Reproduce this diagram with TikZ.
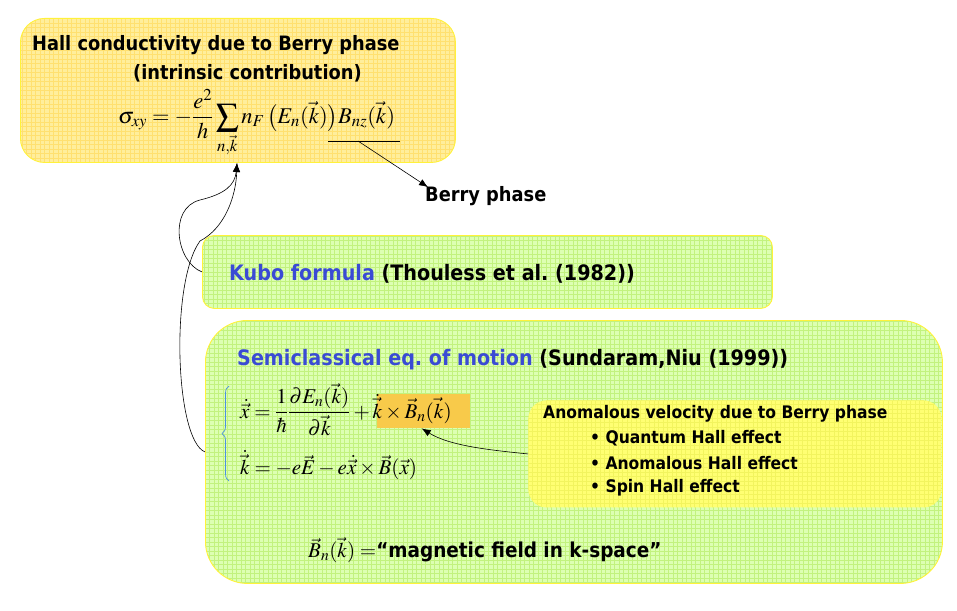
\documentclass[tikz,border=0pt]{standalone}
\usepackage{amsmath}
\usepackage{mathptmx}
\usepackage{fontspec}
\usepackage{xcolor}
\usepackage{tikz}
\usetikzlibrary{arrows.meta,positioning,decorations.pathreplacing}
\newfontfamily\tah{DejaVu Sans Condensed Bold}
\frenchspacing
\definecolor{hallfill}{HTML}{FFEE9C}
\definecolor{hallgrid}{HTML}{FFE070}
\definecolor{greenfill}{HTML}{DDFFB2}
\definecolor{greengrid}{HTML}{C2F27E}
\definecolor{anomfill}{HTML}{FFFF72}
\definecolor{anomgrid}{HTML}{F2F45E}
\definecolor{hilite}{HTML}{F8CA4A}
\definecolor{edgeyellow}{HTML}{FFF23A}
\definecolor{titleblue}{HTML}{3A4BD4}
\definecolor{bracecol}{HTML}{4A90E2}
\tikzset{
    gridded/.style={path picture={\draw[#1, line width=0.3pt] ([shift={(-5pt,-5pt)}]path picture bounding box.south west) grid[step=4.5pt] ([shift={(5pt,5pt)}]path picture bounding box.north east);}},
    panel/.style={draw=edgeyellow, line width=0.9pt, anchor=north west, inner sep=0pt},
    hallbox/.style={panel, fill=hallfill, gridded=hallgrid, rounded corners=24pt, minimum width=435pt, minimum height=144pt},
    kubobox/.style={panel, fill=greenfill, gridded=greengrid, rounded corners=12pt, minimum width=570pt, minimum height=73pt},
    semibox/.style={panel, fill=greenfill, gridded=greengrid, rounded corners=42pt, minimum width=737pt, minimum height=263pt},
    anombox/.style={panel, draw=none, fill=anomfill, gridded=anomgrid, rounded corners=18pt, minimum width=413pt, minimum height=107pt},
    hlbox/.style={anchor=north west, fill=hilite, inner sep=0pt, minimum width=93pt, minimum height=34pt},
    headtext/.style={anchor=west, inner sep=0pt, font=\tah\fontsize{19.8}{23}\selectfont},
    bigtext/.style={anchor=west, inner sep=0pt, font=\tah\fontsize{21.3}{25}\selectfont},
    smalltext/.style={anchor=west, inner sep=0pt, font=\tah\fontsize{17.3}{20}\selectfont},
    mathtext/.style={anchor=west, inner sep=0pt, font=\fontsize{21}{25}\selectfont},
    arr/.style={-{Latex[length=9pt,width=7pt]}, line width=0.6pt}
}

\begin{document}
\begin{tikzpicture}[x=1pt, y=-1pt]
    \useasboundingbox (0,0) rectangle (957,610);
    % panels
    \node[hallbox] (hall) at (20,18) {};
    \node[kubobox] (kubo) at (202,235) {};
    \node[semibox] (semi) at (205,320) {};
    \node[anombox] (anom) at (528,400) {};
    \node[hlbox] (hl) at (377,394) {};

    % top panel
    \node[headtext] (halltitle) at (32,45) {Hall conductivity due to Berry phase};
    \node[headtext] (hallsub) at (133,73) {(intrinsic contribution)};
    \node[mathtext, font=\fontsize{22.5}{26}\selectfont] (sigma) at (118,123) {$\sigma_{xy}=-\dfrac{e^2}{h}\displaystyle\sum_{n,\vec k} n_F\,\big(E_n(\vec k)\big)B_{nz}(\vec k)$};
    \coordinate (ulL) at (328,141);
    \coordinate (ulR) at (400,141);
    \coordinate (ulmid) at (358,141);
    \draw[line width=0.6pt] (ulL) -- (ulR);
    \node[headtext] (berry) at (425,196) {Berry phase};
    \draw[arr] (ulmid) -- ([shift={(3pt,-1pt)}]berry.north west);

    % kubo and semiclassical
    \node[bigtext] (kubotext) at (229,274) {{\color{titleblue}Kubo formula} (Thouless et al. (1982))};
    \node[bigtext] (semitext) at (237,360) {{\color{titleblue}Semiclassical eq. of motion} (Sundaram,Niu (1999))};
    \node[mathtext] (eqx) at (240,410) {$\dot{\vec x}=\dfrac{1}{\hbar}\dfrac{\partial E_n(\vec k)}{\partial\vec k}+\dot{\vec k}\times\vec B_n(\vec k)$};
    \node[mathtext] (eqk) at (240,465) {$\dot{\vec k}=-e\vec E-e\dot{\vec x}\times\vec B(\vec x)$};
    \draw[bracecol, line width=0.7pt, decorate, decoration={brace, amplitude=7pt}] (229,481) -- (229,386);

    % anomalous velocity
    \node[smalltext] (anomtitle) at (543,414) {Anomalous velocity due to Berry phase};
    \node[smalltext] (qhe) at (590,438) {•\ Quantum Hall effect};
    \node[smalltext] (ahe) at (590,463) {•\ Anomalous Hall effect};
    \node[smalltext] (she) at (590,488) {•\ Spin Hall effect};
    \draw[arr] (anom.west) .. controls (490,450) and (450,446) .. ([xshift=-2pt]hl.south);

    \node[bigtext] (kfield) at (308,550) {\fontsize{21}{25}\selectfont$\vec B_n(\vec k)=$\tah\fontsize{20.5}{24}\selectfont“magnetic field in k-space”};

    % connectors to the top panel
    \coordinate (tip) at (237,163);
    \draw[arr] (kubo.west) .. controls (176,262) and (168,208) .. (200,200) .. controls (225,194) and (235,185) .. (tip);
    \draw[arr] (semi.west) .. controls (175,440) and (170,282) .. (200,241) .. controls (225,228) and (236,196) .. (tip);
\end{tikzpicture}
\end{document}
